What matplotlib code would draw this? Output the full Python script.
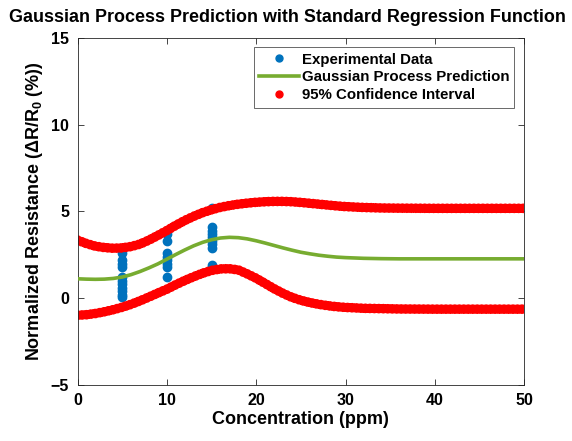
"""
Gaussian process fit of sensor response vs gas concentration.
Recreates the MATLAB-style GP prediction chart as out.png.
"""
import matplotlib
matplotlib.use("Agg")
import matplotlib.pyplot as plt
from matplotlib.lines import Line2D

plt.rcParams['font.family'] = ['Liberation Sans', 'DejaVu Sans']
plt.rcParams['font.weight'] = 'bold'
plt.rcParams['mathtext.fontset'] = 'custom'
plt.rcParams['mathtext.rm'] = 'Liberation Sans:bold'
plt.rcParams['mathtext.it'] = 'Liberation Sans:bold'
plt.rcParams['mathtext.bf'] = 'Liberation Sans:bold'

# experimental measurements (ppm, % change)
exp_conc = [5] * 12 + [10] * 9 + [15] * 10
exp_resp = [2.8, 2.6, 2.2, 2.0, 1.8, 1.2, 1.0, 0.8, 0.6, 0.4, 0.2, 0.05,
            3.9, 3.7, 3.3, 2.6, 2.4, 2.2, 2.0, 1.8, 1.2,
            5.2, 4.1, 3.9, 3.7, 3.5, 3.3, 3.1, 2.9, 1.9, 1.8]

# GP prediction grid
grid_conc = [0, 1, 2, 3, 4, 5, 6, 7, 8, 9, 10, 11, 12, 13, 14, 15, 16, 17, 18, 19,
             20, 21, 22, 23, 24, 25, 26, 27, 28, 29, 30, 32, 34, 36, 40, 45, 50]
gp_mean = [1.12, 1.10, 1.09, 1.10, 1.14, 1.22, 1.36, 1.54, 1.75, 1.98, 2.25, 2.52,
           2.78, 3.02, 3.22, 3.37, 3.47, 3.51, 3.49, 3.42, 3.31, 3.18, 3.04, 2.90,
           2.77, 2.65, 2.56, 2.48, 2.42, 2.37, 2.34, 2.30, 2.28, 2.27, 2.27, 2.27, 2.27]
ci_upper = [3.35, 3.15, 3.00, 2.92, 2.88, 2.90, 2.98, 3.12, 3.35, 3.62, 3.90, 4.20,
            4.48, 4.72, 4.93, 5.10, 5.24, 5.34, 5.42, 5.48, 5.53, 5.56, 5.58, 5.58,
            5.56, 5.52, 5.47, 5.42, 5.37, 5.32, 5.28, 5.23, 5.20, 5.19, 5.18, 5.18, 5.18]
ci_lower = [-0.98, -0.95, -0.88, -0.78, -0.66, -0.52, -0.35, -0.15, 0.07, 0.30, 0.52,
            0.78, 1.02, 1.24, 1.44, 1.60, 1.69, 1.70, 1.63, 1.40, 1.15, 0.85, 0.55,
            0.28, 0.05, -0.12, -0.25, -0.35, -0.43, -0.49, -0.53, -0.58, -0.60, -0.62,
            -0.63, -0.63, -0.63]

BLUE = '#0072BD'
GREEN = '#77AC30'
RED = '#FF0000'

fig = plt.figure(figsize=(5.72, 4.41), dpi=100)
ax = fig.add_axes([0.1355, 0.127, 0.781, 0.787])

# confidence band drawn as densely packed red dots
for band in (ci_upper, ci_lower):
    ax.plot(grid_conc, band, color=RED, lw=7, linestyle=(0, (0.01, 0.45)),
            dash_capstyle='round', zorder=2)
ax.plot(exp_conc, exp_resp, 'o', color=BLUE, ms=6, zorder=1)
ax.plot(grid_conc, gp_mean, color=GREEN, lw=2.6, zorder=3)

ax.set_xlim(0, 50)
ax.set_ylim(-5, 15)
ax.set_xticks([0, 10, 20, 30, 40, 50])
ax.set_yticks([-5, 0, 5, 10, 15])
ax.tick_params(direction='in', top=True, right=True, length=4, width=0.6,
               labelsize=11.5, pad=6, color='#262626')
for s in ax.spines.values():
    s.set_linewidth(0.6)
    s.set_color('#262626')

ax.set_xlabel('Concentration (ppm)', fontsize=13, fontweight='bold', labelpad=2)
ax.set_ylabel(r'Normalized Resistance ($\Delta$R/R$_0$ (%))', fontsize=13,
              fontweight='bold', labelpad=4)
fig.suptitle('Gaussian Process Prediction with Standard Regression Function',
             x=0.502, y=0.98, fontsize=12.9, fontweight='bold')

handles = [
    Line2D([], [], marker='o', ls='none', color=BLUE, ms=5),
    Line2D([], [], color=GREEN, lw=2.6),
    Line2D([], [], marker='o', ls='none', color=RED, ms=5),
]
labels = ['Experimental Data', 'Gaussian Process Prediction', '95% Confidence Interval']
leg = ax.legend(handles, labels, loc='upper right', bbox_to_anchor=(0.978, 0.973),
                frameon=True, fancybox=False, handlelength=2.7,
                handletextpad=0.15, borderpad=0.35, labelspacing=0.26,
                borderaxespad=0, prop={'weight': 'bold', 'size': 10.8})
leg.get_frame().set_edgecolor('#262626')
leg.get_frame().set_linewidth(0.6)

fig.savefig('out.png', dpi=100)
